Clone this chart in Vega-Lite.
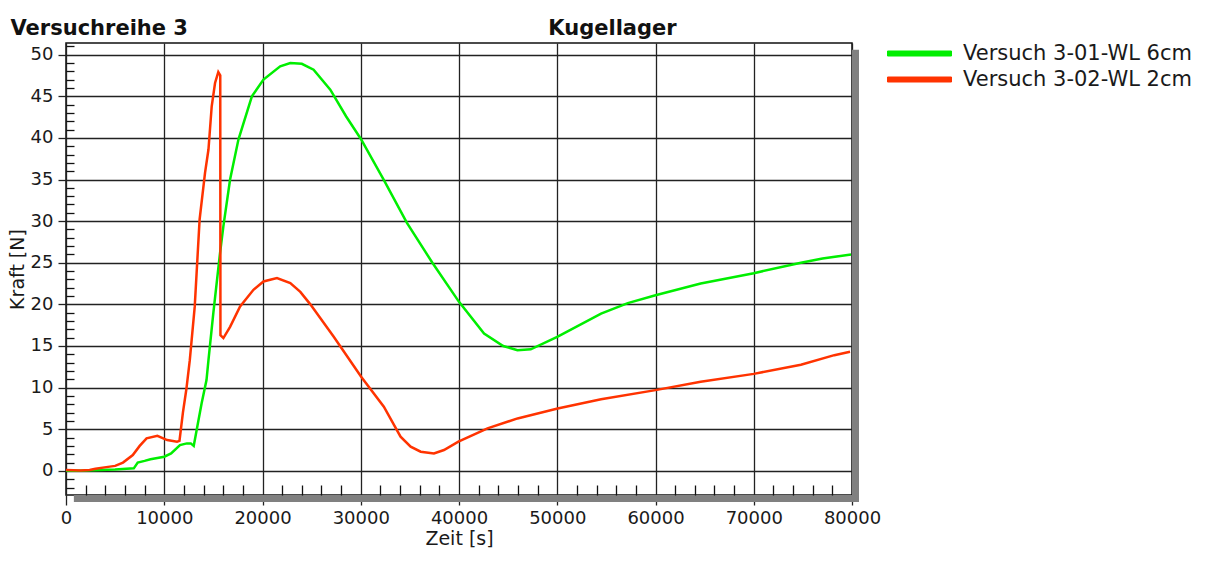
{
  "$schema": "https://vega.github.io/schema/vega-lite/v6.json",
  "width": 786,
  "height": 452,
  "autosize": {"type": "none"},
  "padding": {"left": 66, "top": 43, "right": 363, "bottom": 69},
  "background": "white",
  "config": {
    "view": {"stroke": "#111", "strokeWidth": 1.5},
    "font": "DejaVu Sans"
  },
  "resolve": {"axis": {"x": "independent", "y": "independent"}},
  "layer": [
    {
      "data": {"values": [{}]},
      "mark": {"type": "rule", "color": "#808080", "strokeWidth": 7, "xOffset": 3.5, "y2Offset": 7},
      "encoding": {
        "x": {
          "datum": 80000, "type": "quantitative",
          "axis": {
            "orient": "bottom",
            "values": [2000,4000,6000,8000,12000,14000,16000,18000,22000,24000,26000,28000,32000,34000,36000,38000,42000,44000,46000,48000,52000,54000,56000,58000,62000,64000,66000,68000,72000,74000,76000,78000],
            "tickSize": -10, "tickColor": "#111", "tickWidth": 1.3,
            "labels": false, "domain": false, "grid": false, "title": null, "zindex": 1
          }
        },
        "y": {
          "datum": 50.6, "type": "quantitative",
          "axis": {
            "orient": "left",
            "values": [-2,-1,1,2,3,4,6,7,8,9,11,12,13,14,16,17,18,19,21,22,23,24,26,27,28,29,31,32,33,34,36,37,38,39,41,42,43,44,46,47,48,49,51],
            "tickSize": -8, "tickColor": "#111", "tickWidth": 1.3,
            "labels": false, "domain": false, "grid": false,
            "title": "Versuchreihe 3", "titleAngle": 0, "titleX": -56, "titleY": -9,
            "titleAlign": "left", "titleBaseline": "alphabetic",
            "titleFontSize": 21, "titleFontWeight": "bold", "titleColor": "#111", "zindex": 1
          }
        },
        "y2": {"datum": -2.9}
      }
    },
    {
      "data": {"values": [{}]},
      "mark": {"type": "rule", "color": "#808080", "strokeWidth": 7, "yOffset": 3.5, "x2Offset": 7},
      "encoding": {
        "x": {
          "datum": 800, "type": "quantitative",
          "axis": {
            "orient": "top", "values": [], "ticks": false, "labels": false, "domain": false, "grid": false,
            "title": "Kugellager", "titleX": 546, "titleY": -9, "titleAlign": "center", "titleBaseline": "alphabetic",
            "titleFontSize": 21, "titleFontWeight": "bold", "titleColor": "#111"
          }
        },
        "x2": {"datum": 80000},
        "y": {"datum": -2.9, "type": "quantitative", "axis": null}
      }
    },
    {
      "data": {
        "values": [
          {"serie": "Versuch 3-01-WL 6cm", "t": 0, "f": 0},
          {"serie": "Versuch 3-01-WL 6cm", "t": 1000, "f": 0},
          {"serie": "Versuch 3-01-WL 6cm", "t": 2000, "f": 0.05},
          {"serie": "Versuch 3-01-WL 6cm", "t": 3400, "f": 0.1},
          {"serie": "Versuch 3-01-WL 6cm", "t": 5000, "f": 0.15},
          {"serie": "Versuch 3-01-WL 6cm", "t": 6900, "f": 0.3},
          {"serie": "Versuch 3-01-WL 6cm", "t": 7300, "f": 1.0},
          {"serie": "Versuch 3-01-WL 6cm", "t": 8000, "f": 1.2},
          {"serie": "Versuch 3-01-WL 6cm", "t": 8600, "f": 1.4},
          {"serie": "Versuch 3-01-WL 6cm", "t": 10000, "f": 1.7},
          {"serie": "Versuch 3-01-WL 6cm", "t": 10700, "f": 2.1},
          {"serie": "Versuch 3-01-WL 6cm", "t": 11600, "f": 3.1},
          {"serie": "Versuch 3-01-WL 6cm", "t": 12300, "f": 3.3},
          {"serie": "Versuch 3-01-WL 6cm", "t": 12700, "f": 3.3},
          {"serie": "Versuch 3-01-WL 6cm", "t": 13000, "f": 3.0},
          {"serie": "Versuch 3-01-WL 6cm", "t": 13300, "f": 4.9},
          {"serie": "Versuch 3-01-WL 6cm", "t": 13800, "f": 8.1},
          {"serie": "Versuch 3-01-WL 6cm", "t": 14300, "f": 10.9},
          {"serie": "Versuch 3-01-WL 6cm", "t": 14500, "f": 13.3},
          {"serie": "Versuch 3-01-WL 6cm", "t": 15000, "f": 19},
          {"serie": "Versuch 3-01-WL 6cm", "t": 15680, "f": 26.2},
          {"serie": "Versuch 3-01-WL 6cm", "t": 16020, "f": 29.4},
          {"serie": "Versuch 3-01-WL 6cm", "t": 16700, "f": 35},
          {"serie": "Versuch 3-01-WL 6cm", "t": 17550, "f": 39.8},
          {"serie": "Versuch 3-01-WL 6cm", "t": 18920, "f": 45},
          {"serie": "Versuch 3-01-WL 6cm", "t": 20100, "f": 47},
          {"serie": "Versuch 3-01-WL 6cm", "t": 21800, "f": 48.6},
          {"serie": "Versuch 3-01-WL 6cm", "t": 22830, "f": 49.0},
          {"serie": "Versuch 3-01-WL 6cm", "t": 24000, "f": 48.9},
          {"serie": "Versuch 3-01-WL 6cm", "t": 25200, "f": 48.2},
          {"serie": "Versuch 3-01-WL 6cm", "t": 26900, "f": 45.8},
          {"serie": "Versuch 3-01-WL 6cm", "t": 28500, "f": 42.6},
          {"serie": "Versuch 3-01-WL 6cm", "t": 30000, "f": 39.9},
          {"serie": "Versuch 3-01-WL 6cm", "t": 32330, "f": 35},
          {"serie": "Versuch 3-01-WL 6cm", "t": 34700, "f": 29.8},
          {"serie": "Versuch 3-01-WL 6cm", "t": 37290, "f": 25},
          {"serie": "Versuch 3-01-WL 6cm", "t": 40000, "f": 20.3},
          {"serie": "Versuch 3-01-WL 6cm", "t": 42550, "f": 16.5},
          {"serie": "Versuch 3-01-WL 6cm", "t": 44500, "f": 15.0},
          {"serie": "Versuch 3-01-WL 6cm", "t": 45950, "f": 14.5},
          {"serie": "Versuch 3-01-WL 6cm", "t": 47300, "f": 14.6},
          {"serie": "Versuch 3-01-WL 6cm", "t": 50000, "f": 16.1},
          {"serie": "Versuch 3-01-WL 6cm", "t": 54460, "f": 18.9},
          {"serie": "Versuch 3-01-WL 6cm", "t": 57180, "f": 20.15},
          {"serie": "Versuch 3-01-WL 6cm", "t": 60000, "f": 21.1},
          {"serie": "Versuch 3-01-WL 6cm", "t": 64600, "f": 22.5},
          {"serie": "Versuch 3-01-WL 6cm", "t": 70000, "f": 23.75},
          {"serie": "Versuch 3-01-WL 6cm", "t": 74800, "f": 25},
          {"serie": "Versuch 3-01-WL 6cm", "t": 77000, "f": 25.5},
          {"serie": "Versuch 3-01-WL 6cm", "t": 79900, "f": 26.0},
          {"serie": "Versuch 3-02-WL 2cm", "t": 0, "f": 0.1},
          {"serie": "Versuch 3-02-WL 2cm", "t": 1500, "f": 0.05},
          {"serie": "Versuch 3-02-WL 2cm", "t": 2400, "f": 0.1},
          {"serie": "Versuch 3-02-WL 2cm", "t": 3000, "f": 0.25},
          {"serie": "Versuch 3-02-WL 2cm", "t": 4100, "f": 0.45},
          {"serie": "Versuch 3-02-WL 2cm", "t": 5000, "f": 0.6},
          {"serie": "Versuch 3-02-WL 2cm", "t": 5800, "f": 1.0},
          {"serie": "Versuch 3-02-WL 2cm", "t": 6800, "f": 1.9},
          {"serie": "Versuch 3-02-WL 2cm", "t": 7500, "f": 3.0},
          {"serie": "Versuch 3-02-WL 2cm", "t": 8200, "f": 3.9},
          {"serie": "Versuch 3-02-WL 2cm", "t": 9300, "f": 4.2},
          {"serie": "Versuch 3-02-WL 2cm", "t": 10300, "f": 3.7},
          {"serie": "Versuch 3-02-WL 2cm", "t": 11300, "f": 3.5},
          {"serie": "Versuch 3-02-WL 2cm", "t": 11550, "f": 3.6},
          {"serie": "Versuch 3-02-WL 2cm", "t": 11900, "f": 7},
          {"serie": "Versuch 3-02-WL 2cm", "t": 12250, "f": 9.8},
          {"serie": "Versuch 3-02-WL 2cm", "t": 12600, "f": 13.3},
          {"serie": "Versuch 3-02-WL 2cm", "t": 13100, "f": 19.7},
          {"serie": "Versuch 3-02-WL 2cm", "t": 13600, "f": 30.2},
          {"serie": "Versuch 3-02-WL 2cm", "t": 14150, "f": 35.8},
          {"serie": "Versuch 3-02-WL 2cm", "t": 14500, "f": 38.6},
          {"serie": "Versuch 3-02-WL 2cm", "t": 14830, "f": 43.8},
          {"serie": "Versuch 3-02-WL 2cm", "t": 15170, "f": 46.6},
          {"serie": "Versuch 3-02-WL 2cm", "t": 15500, "f": 47.9},
          {"serie": "Versuch 3-02-WL 2cm", "t": 15700, "f": 47.5},
          {"serie": "Versuch 3-02-WL 2cm", "t": 15720, "f": 16.3},
          {"serie": "Versuch 3-02-WL 2cm", "t": 16020, "f": 15.95},
          {"serie": "Versuch 3-02-WL 2cm", "t": 16700, "f": 17.3},
          {"serie": "Versuch 3-02-WL 2cm", "t": 17720, "f": 19.75},
          {"serie": "Versuch 3-02-WL 2cm", "t": 19080, "f": 21.75},
          {"serie": "Versuch 3-02-WL 2cm", "t": 20100, "f": 22.75},
          {"serie": "Versuch 3-02-WL 2cm", "t": 21470, "f": 23.15},
          {"serie": "Versuch 3-02-WL 2cm", "t": 22830, "f": 22.55},
          {"serie": "Versuch 3-02-WL 2cm", "t": 23850, "f": 21.5},
          {"serie": "Versuch 3-02-WL 2cm", "t": 24870, "f": 20.0},
          {"serie": "Versuch 3-02-WL 2cm", "t": 27250, "f": 16.1},
          {"serie": "Versuch 3-02-WL 2cm", "t": 30040, "f": 11.3},
          {"serie": "Versuch 3-02-WL 2cm", "t": 32350, "f": 7.7},
          {"serie": "Versuch 3-02-WL 2cm", "t": 34050, "f": 4.1},
          {"serie": "Versuch 3-02-WL 2cm", "t": 35080, "f": 2.9},
          {"serie": "Versuch 3-02-WL 2cm", "t": 36100, "f": 2.3},
          {"serie": "Versuch 3-02-WL 2cm", "t": 37450, "f": 2.1},
          {"serie": "Versuch 3-02-WL 2cm", "t": 38470, "f": 2.5},
          {"serie": "Versuch 3-02-WL 2cm", "t": 39940, "f": 3.5},
          {"serie": "Versuch 3-02-WL 2cm", "t": 42900, "f": 5.1},
          {"serie": "Versuch 3-02-WL 2cm", "t": 45960, "f": 6.3},
          {"serie": "Versuch 3-02-WL 2cm", "t": 50040, "f": 7.5},
          {"serie": "Versuch 3-02-WL 2cm", "t": 54460, "f": 8.6},
          {"serie": "Versuch 3-02-WL 2cm", "t": 60000, "f": 9.7},
          {"serie": "Versuch 3-02-WL 2cm", "t": 64600, "f": 10.7},
          {"serie": "Versuch 3-02-WL 2cm", "t": 70000, "f": 11.65},
          {"serie": "Versuch 3-02-WL 2cm", "t": 74800, "f": 12.75},
          {"serie": "Versuch 3-02-WL 2cm", "t": 78200, "f": 13.9},
          {"serie": "Versuch 3-02-WL 2cm", "t": 79800, "f": 14.3}
        ]
      },
      "mark": {"type": "line", "strokeWidth": 2.5},
      "encoding": {
        "x": {
          "field": "t", "type": "quantitative",
          "scale": {"domain": [0, 80000], "nice": false, "zero": false},
          "axis": {
            "orient": "bottom", "format": "d",
            "values": [0,10000,20000,30000,40000,50000,60000,70000,80000],
            "grid": true, "gridColor": "#222", "gridWidth": 1.3,
            "tickSize": 10, "tickColor": "#222", "tickWidth": 1.3,
            "domain": false, "labelFontSize": 18, "labelPadding": 4, "labelColor": "#1a1a1a",
            "labelFlush": false, "labelOverlap": false,
            "title": "Zeit [s]", "titleFontSize": 19, "titleFontWeight": "normal", "titlePadding": 2, "titleColor": "#1a1a1a"
          }
        },
        "y": {
          "field": "f", "type": "quantitative",
          "scale": {"domain": [-2.9, 51.4], "nice": false, "zero": false},
          "axis": {
            "orient": "left",
            "values": [0,5,10,15,20,25,30,35,40,45,50],
            "grid": true, "gridColor": "#222", "gridWidth": 1.3,
            "tickSize": 8, "tickColor": "#222", "tickWidth": 1.3,
            "domain": false, "labelFontSize": 18, "labelPadding": 5, "labelColor": "#1a1a1a",
            "labelFlush": false, "labelOverlap": false,
            "title": "Kraft [N]", "titleFontSize": 19, "titleFontWeight": "normal", "titlePadding": 3, "titleColor": "#1a1a1a"
          }
        },
        "color": {
          "field": "serie", "type": "nominal",
          "scale": {"domain": ["Versuch 3-01-WL 6cm", "Versuch 3-02-WL 2cm"], "range": ["#00ee00", "#ff3300"]},
          "legend": {
            "title": null, "orient": "right", "offset": 52, "padding": 0,
            "symbolType": "M-3.2,-0.25L3.2,-0.25L3.2,0.25L-3.2,0.25Z", "symbolSize": 400,
            "symbolStrokeWidth": 1,
            "labelFontSize": 21, "labelColor": "#1a1a1a", "labelOffset": 33, "labelLimit": 400,
            "rowPadding": 4,
            "encode": {"symbols": {"update": {"fill": {"signal": "scale('color', datum.value)"}, "stroke": {"signal": "'#000000'"}, "strokeWidth": {"value": 1}}}}
          }
        }
      }
    }
  ]
}
